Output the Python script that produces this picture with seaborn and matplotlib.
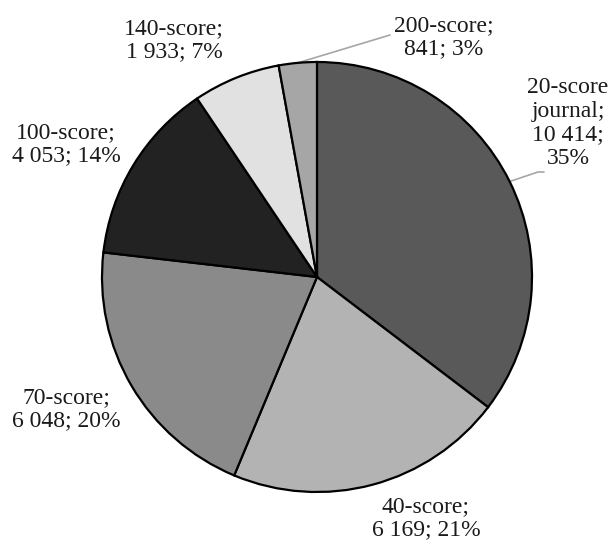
import matplotlib
matplotlib.use("Agg")
import matplotlib.pyplot as plt
import seaborn as sns
import numpy as np

# ---- data ----
categories = ["20-score\njournal", "40-score", "70-score", "100-score", "140-score", "200-score"]
counts = [10414, 6169, 6048, 4053, 1933, 841]
percents = [35, 21, 20, 14, 7, 3]
count_labels = ["10 414", "6 169", "6 048", "4 053", "1 933", "841"]

# ---- style ----
sns.set_theme(style="white")
plt.rcParams["font.family"] = ["Liberation Serif", "DejaVu Serif"]
colors = ["#595959", "#b3b3b3", "#8a8a8a", "#222222", "#e1e1e1", "#a6a6a6"]

W, H = 611, 540
CX, CY, R = 317, 277, 215  # pie centre / radius in pixels


def px(x, y):
    return (x - CX) / R, (CY - y) / R


fig = plt.figure(figsize=(W / 100, H / 100), dpi=100)
ax = fig.add_axes([0, 0, 1, 1])

wedges, _ = ax.pie(counts, colors=colors, startangle=90, counterclock=False,
                   radius=1, center=(0, 0),
                   wedgeprops=dict(edgecolor="black", linewidth=1.6))

ax.set_xlim(-CX / R, (W - CX) / R)
ax.set_ylim(-(H - CY) / R, CY / R)
ax.set_aspect("equal", adjustable="datalim")
ax.axis("off")

# label text
texts = [
    f"20-score\njournal;\n{count_labels[0]};\n{percents[0]}%",
    f"{categories[1]};\n{count_labels[1]}; {percents[1]}%",
    f"{categories[2]};\n{count_labels[2]}; {percents[2]}%",
    f"{categories[3]};\n{count_labels[3]}; {percents[3]}%",
    f"{categories[4]};\n{count_labels[4]}; {percents[4]}%",
    f"{categories[5]};\n{count_labels[5]}; {percents[5]}%",
]
label_pos = [(568, 123), (426, 518), (66, 409), (66, 144), (174, 40), (444, 37)]

for t, (lx, ly) in zip(texts, label_pos):
    x, y = px(lx, ly)
    ax.text(x, y, t, ha="center", va="center", fontsize=17, color="#1a1a1a",
            linespacing=1.15)

# leader lines for the two labels that need them
leader_ends = {0: [(538, 172), (544, 172)], 5: [(390, 35)]}
for i, ends in leader_ends.items():
    w = wedges[i]
    mid = np.deg2rad((w.theta1 + w.theta2) / 2)
    xs = [np.cos(mid)] + [px(*e)[0] for e in ends]
    ys = [np.sin(mid)] + [px(*e)[1] for e in ends]
    ax.plot(xs, ys, color="#a6a6a6", linewidth=1.2, zorder=0.5)

fig.savefig("out.png", dpi=100, facecolor="white")
